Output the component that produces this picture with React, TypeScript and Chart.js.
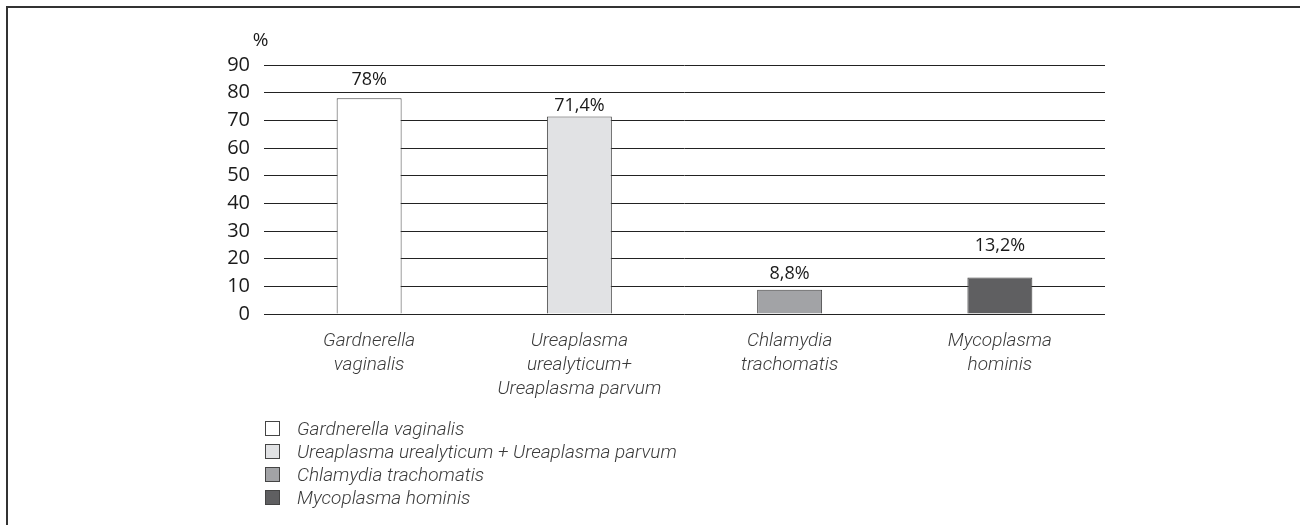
import React, { useEffect, useRef } from "react";
import { Chart, registerables } from "chart.js";

Chart.register(...registerables);

const categories: string[][] = [
  ["Gardnerella", "vaginalis"],
  ["Ureaplasma", "urealyticum+", "Ureaplasma parvum"],
  ["Chlamydia", "trachomatis"],
  ["Mycoplasma", "hominis"],
];
const legendNames: string[] = [
  "Gardnerella vaginalis",
  "Ureaplasma urealyticum + Ureaplasma parvum",
  "Chlamydia trachomatis",
  "Mycoplasma hominis",
];
const values: number[] = [78, 71.4, 8.8, 13.2];
const valueLabels: string[] = ["78%", "71,4%", "8,8%", "13,2%"];
const barColors: string[] = ["#ffffff", "#e1e2e4", "#a2a3a6", "#5f5f61"];
const unitLabel = "%";
const yMin = 0;
const yMax = 90;
const yStep = 10;

const ITALIC_FONT = 'Roboto, "Liberation Sans", sans-serif';
const NUM_FONT = '"Open Sans", "Noto Sans", sans-serif';

// Place each value label inside the free gap between the bar top and the
// next gridline above it; if that gap is too narrow, use the next band up.
const labelPlugin = {
  id: "valueLabels",
  afterDatasetsDraw(chart: any) {
    const ctx = chart.ctx;
    const meta = chart.getDatasetMeta(0);
    const ys = chart.scales.y;
    ctx.save();
    ctx.font = `18px ${NUM_FONT}`;
    ctx.fillStyle = "#1a1a1a";
    ctx.textAlign = "center";
    ctx.textBaseline = "middle";
    meta.data.forEach((bar: any, i: number) => {
      const v = values[i];
      const nextGrid = Math.floor(v / yStep) * yStep + yStep;
      const gridPx = ys.getPixelForValue(nextGrid);
      const gap = bar.y - gridPx;
      let cy: number;
      if (gap >= 20) {
        cy = (bar.y + gridPx) / 2;
      } else {
        const upper = ys.getPixelForValue(Math.min(nextGrid + yStep, yMax + yStep));
        cy = (gridPx + upper) / 2;
      }
      ctx.fillText(valueLabels[i], bar.x, cy + 1);
    });
    ctx.font = `19px ${NUM_FONT}`;
    ctx.fillText(unitLabel, ys.right - 3.5, ys.top - 24.5);
    ctx.restore();
  },
};

export default function App() {
  const canvasRef = useRef<HTMLCanvasElement | null>(null);

  useEffect(() => {
    const prevMargin = document.body.style.margin;
    document.body.style.margin = "0";
    const canvas = canvasRef.current;
    if (!canvas) return;
    const chart = new Chart(canvas, {
      type: "bar",
      data: {
        labels: categories,
        datasets: [
          {
            data: values,
            backgroundColor: barColors,
            borderColor: "#444444",
            borderWidth: 1,
            barPercentage: 0.309,
            categoryPercentage: 1,
          },
        ],
      },
      options: {
        animation: false,
        responsive: true,
        maintainAspectRatio: false,
        layout: { padding: { left: 0, top: 65, right: 195, bottom: 0 } },
        plugins: {
          legend: { display: false },
          tooltip: { enabled: false },
          title: { display: false },
        },
        scales: {
          x: {
            grid: { display: false },
            border: { display: false },
            ticks: {
              font: { family: ITALIC_FONT, size: 19, style: "italic", weight: "300", lineHeight: 1.263 },
              color: "#3a3a3a",
              padding: 7,
              maxRotation: 0,
              autoSkip: false,
            },
            afterFit: (s: any) => {
              s.height = 211;
            },
          },
          y: {
            min: yMin,
            max: yMax,
            grid: { color: "#222222", lineWidth: 1, drawTicks: false },
            border: { display: false },
            ticks: {
              stepSize: yStep,
              font: { family: NUM_FONT, size: 20 },
              color: "#1a1a1a",
              padding: 14,
            },
            afterFit: (s: any) => {
              s.width = 264;
            },
          },
        },
      },
      plugins: [labelPlugin],
    });
    return () => {
      chart.destroy();
      document.body.style.margin = prevMargin;
    };
  }, []);

  return (
    <div style={{ position: "absolute", left: 0, top: 0, width: 1300, height: 525, background: "#fff", overflow: "hidden" }}>
      <div
        style={{
          position: "absolute",
          left: 6,
          top: 6,
          width: 1300,
          height: 525,
          borderTop: "2px solid #333",
          borderLeft: "2px solid #333",
        }}
      />
      <div style={{ position: "absolute", left: 0, top: 0, width: 1300, height: 525 }}>
        <canvas ref={canvasRef} />
      </div>
      {legendNames.map((name, i) => (
        <div
          key={name}
          style={{
            position: "absolute",
            left: 265,
            top: 428 + i * 23.3 - 12,
            height: 24,
            display: "flex",
            alignItems: "center",
            fontFamily: ITALIC_FONT,
            fontStyle: "italic",
            fontWeight: 300,
            fontSize: 19,
            color: "#3a3a3a",
            whiteSpace: "nowrap",
          }}
        >
          <span
            style={{
              display: "inline-block",
              width: 13,
              height: 13,
              background: barColors[i],
              border: "1px solid #444",
              marginRight: 17,
            }}
          />
          <span>{name}</span>
        </div>
      ))}
    </div>
  );
}
